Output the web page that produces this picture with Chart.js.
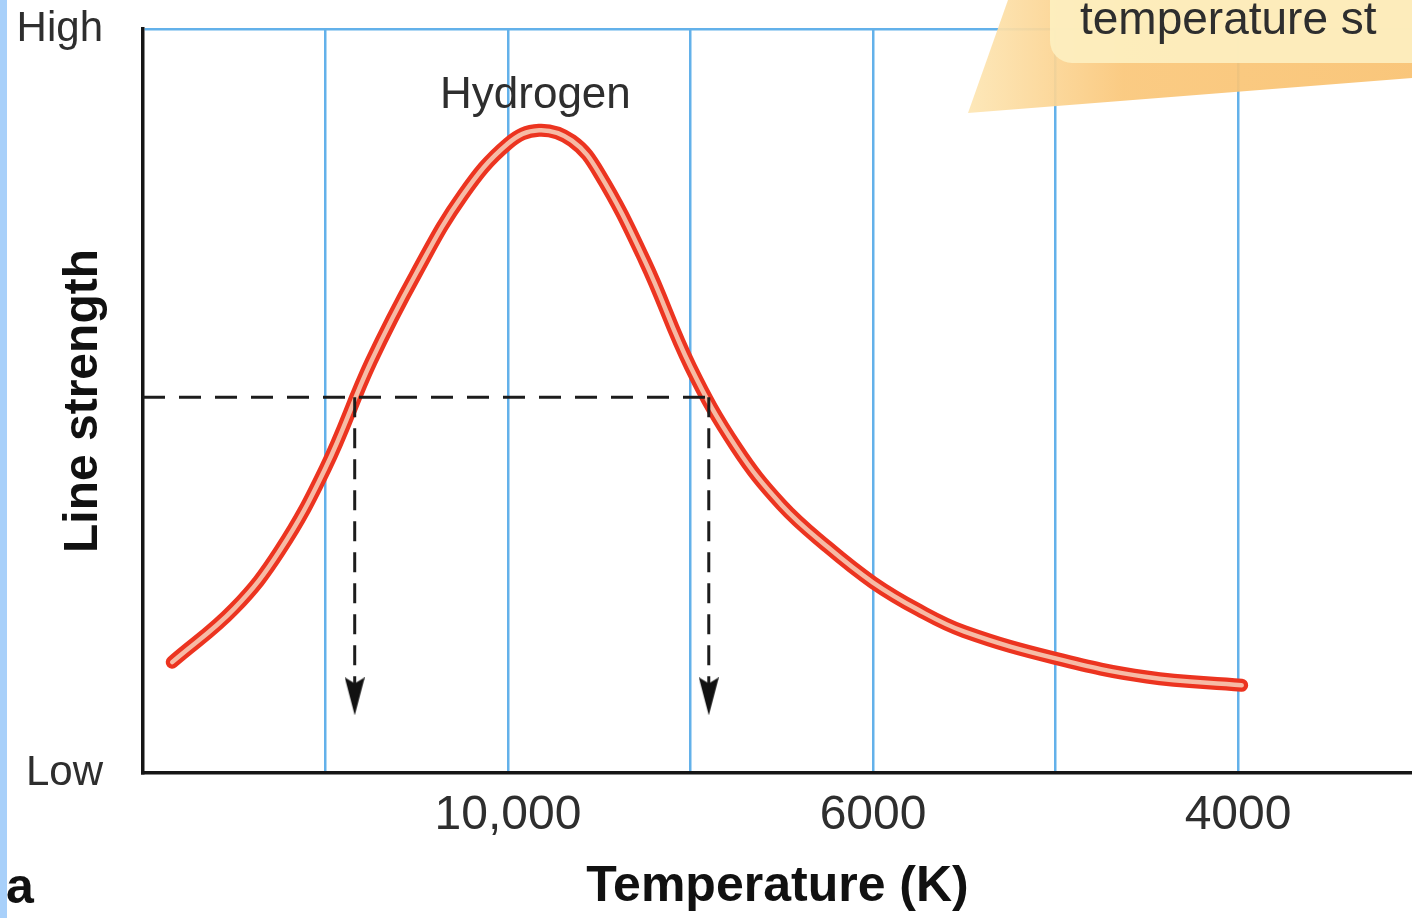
<!DOCTYPE html>
<html>
<head>
<meta charset="utf-8">
<title>Hydrogen line strength</title>
<script src="https://cdn.jsdelivr.net/npm/chart.js@4/dist/chart.umd.min.js"></script>
<style>
    html, body { margin: 0; padding: 0; background: #fff; }
    #wrap { width: 1412px; height: 918px; }
</style>
</head>
<body>
<div id="wrap"><canvas id="lineChart" width="1412" height="918"></canvas></div>
<script>
// -------------------------------
// DATA
// -------------------------------
// x positions are grid steps along the temperature axis (one step per blue line)
const gridSteps   = [0, 1, 2, 3, 4, 5, 6];
const tickLabels  = ["", "", "10,000", "", "6000", "", "4000"];

// hydrogen curve (position, strength 0 = low .. 100 = high)
const hydrogenPos      = [0.16, 0.5, 0.75, 1.0, 1.25, 1.5, 1.75, 2.0, 2.17, 2.35, 2.5, 2.75, 3.0, 3.25, 3.5, 3.75, 4.0, 4.25, 4.5, 5.0, 5.5, 6.02];
const hydrogenStrength = [14.9, 22.1, 29.9, 41.0, 55.3, 67.3, 77.6, 84.6, 86.4, 85.0, 80.6, 68.8, 54.6, 43.8, 36.0, 30.4, 25.6, 21.9, 19.0, 15.4, 12.9, 11.8];

// dashed guide: level, where it meets the curve, where the arrows stop
const guideLevel  = 50.5;
const guideStart  = 0;
const guideEnd    = 3.12;
const arrowPos    = [1.16, 3.10];
const arrowTip    = 10.3;

const xMax = 6.953;

// -------------------------------
// ARROW HEAD (used as point style)
// -------------------------------
const arrowImg = document.createElement("canvas");
arrowImg.width = 20;
arrowImg.height = 38;
(function () {
    const c = arrowImg.getContext("2d");
    c.fillStyle = "#111";
    c.beginPath();
    c.moveTo(0, 0);
    c.lineTo(10, 6);
    c.lineTo(20, 0);
    c.lineTo(10, 38);
    c.closePath();
    c.fill();
})();

const curve = hydrogenPos.map((x, i) => ({ x: x, y: hydrogenStrength[i] }));

function arrowData(x) {
    return [{ x: x, y: guideLevel }, { x: x, y: arrowTip }];
}

const GRID_BLUE = "#63b1ea";
const TEXT = "#2e2e2e";

// -------------------------------
// EXTRA DRAWING (labels, callout, side bar)
// -------------------------------
const decorPlugin = {
    id: "decor",
    beforeDraw(chart) {
        const c = chart.ctx;
        c.save();
        c.fillStyle = "#fff";
        c.fillRect(0, 0, chart.width, chart.height);
        c.restore();
    },
    afterDatasetsDraw(chart) {
        const c = chart.ctx;
        const xs = chart.scales.x;

        // curve label
        c.save();
        c.fillStyle = TEXT;
        c.font = "44px 'Liberation Sans', Arial, sans-serif";
        c.textAlign = "center";
        c.textBaseline = "alphabetic";
        c.fillText("Hydrogen", xs.getPixelForValue(2.15), 108);
        c.restore();

        // callout wedge + box at top right
        c.save();
        c.globalAlpha = 0.93;
        const g = c.createLinearGradient(968, 0, 1412, 0);
        g.addColorStop(0, "#fde6b4");
        g.addColorStop(0.35, "#fac77a");
        g.addColorStop(1, "#f9c271");
        c.fillStyle = g;
        c.beginPath();
        c.moveTo(968, 113);
        c.lineTo(1008, 0);
        c.lineTo(1412, 0);
        c.lineTo(1412, 78);
        c.closePath();
        c.fill();

        c.fillStyle = "#fdefbf";
        c.beginPath();
        c.roundRect(1050, -40, 420, 103, 22);
        c.fill();
        c.restore();

        c.save();
        c.fillStyle = TEXT;
        c.font = "46px 'Liberation Sans', Arial, sans-serif";
        c.textBaseline = "alphabetic";
        c.fillText("temperature st", 1080, 34);
        c.restore();
    },
    afterDraw(chart) {
        const c = chart.ctx;
        c.save();
        c.fillStyle = "#111";
        c.font = "bold 50px 'Liberation Sans', Arial, sans-serif";
        c.textBaseline = "alphabetic";
        c.fillText("a", 6, 903);
        c.fillStyle = "#a8d0fa";
        c.fillRect(0, 0, 7, chart.height);
        c.restore();
    }
};

// -------------------------------
// CHART
// -------------------------------
const ctx = document.getElementById("lineChart").getContext("2d");

new Chart(ctx, {
    type: "scatter",
    data: {
        datasets: [
            {
                label: "guide",
                data: [{ x: guideStart, y: guideLevel }, { x: guideEnd, y: guideLevel }],
                showLine: true,
                borderColor: "#1c1c1c",
                borderWidth: 3,
                borderDash: [22, 14],
                pointRadius: 0,
                order: 1
            },
            {
                label: "arrow1",
                data: arrowData(arrowPos[0]),
                showLine: true,
                borderColor: "#1c1c1c",
                borderWidth: 3,
                borderDash: [20, 11],
                pointStyle: arrowImg,
                pointRadius: [0, 10],
                order: 1
            },
            {
                label: "arrow2",
                data: arrowData(arrowPos[1]),
                showLine: true,
                borderColor: "#1c1c1c",
                borderWidth: 3,
                borderDash: [20, 11],
                pointStyle: arrowImg,
                pointRadius: [0, 10],
                order: 1
            },
            {
                label: "Hydrogen core",
                data: curve,
                showLine: true,
                borderColor: "#f6bba6",
                borderWidth: 4.5,
                tension: 0.4,
                borderCapStyle: "round",
                pointRadius: 0,
                order: 2
            },
            {
                label: "Hydrogen",
                data: curve,
                showLine: true,
                borderColor: "#ec3420",
                borderWidth: 13,
                tension: 0.4,
                borderCapStyle: "round",
                pointRadius: 0,
                order: 3
            }
        ]
    },
    options: {
        responsive: false,
        animation: false,
        devicePixelRatio: 1,
        layout: { autoPadding: false, padding: { top: 29, left: 0, right: 0, bottom: 0 } },
        plugins: {
            legend: { display: false },
            tooltip: { enabled: false }
        },
        scales: {
            x: {
                type: "linear",
                min: 0,
                max: xMax,
                afterBuildTicks: s => { s.ticks = gridSteps.map(v => ({ value: v })); },
                afterFit: s => { s.height = 145; s.paddingLeft = 0; s.paddingRight = 0; },
                ticks: {
                    autoSkip: false,
                    maxRotation: 0,
                    padding: 14,
                    color: TEXT,
                    font: { family: "'Liberation Sans', Arial, sans-serif", size: 48 },
                    callback: (v, i) => tickLabels[i]
                },
                grid: {
                    drawTicks: false,
                    lineWidth: 2.5,
                    color: c => (c.tick && c.tick.value === 0 ? "rgba(0,0,0,0)" : GRID_BLUE)
                },
                border: { display: true, color: "#151515", width: 3.5 },
                title: {
                    display: true,
                    text: "Temperature (K)",
                    color: "#111",
                    font: { family: "'Liberation Sans', Arial, sans-serif", size: 50, weight: "bold", lineHeight: 1.2 },
                    padding: { top: 0, bottom: 1 }
                }
            },
            y: {
                type: "linear",
                min: 0,
                max: 100,
                afterBuildTicks: s => { s.ticks = [{ value: 0 }, { value: 100 }]; },
                afterFit: s => { s.width = 143; s.paddingTop = 0; s.paddingBottom = 0; },
                ticks: {
                    padding: 40,
                    color: TEXT,
                    font: { family: "'Liberation Sans', Arial, sans-serif", size: 42 },
                    callback: v => (v === 100 ? "High" : "Low")
                },
                grid: {
                    drawTicks: false,
                    lineWidth: 2.5,
                    color: c => (c.tick && c.tick.value === 100 ? GRID_BLUE : "rgba(0,0,0,0)")
                },
                border: { display: true, color: "#151515", width: 3.5 },
                title: {
                    display: true,
                    text: "Line strength",
                    color: "#111",
                    font: { family: "'Liberation Sans', Arial, sans-serif", size: 48, weight: "bold", lineHeight: 1.2 },
                    padding: { top: 55, bottom: 0 }
                }
            }
        }
    },
    plugins: [decorPlugin]
});
</script>
</body>
</html>
